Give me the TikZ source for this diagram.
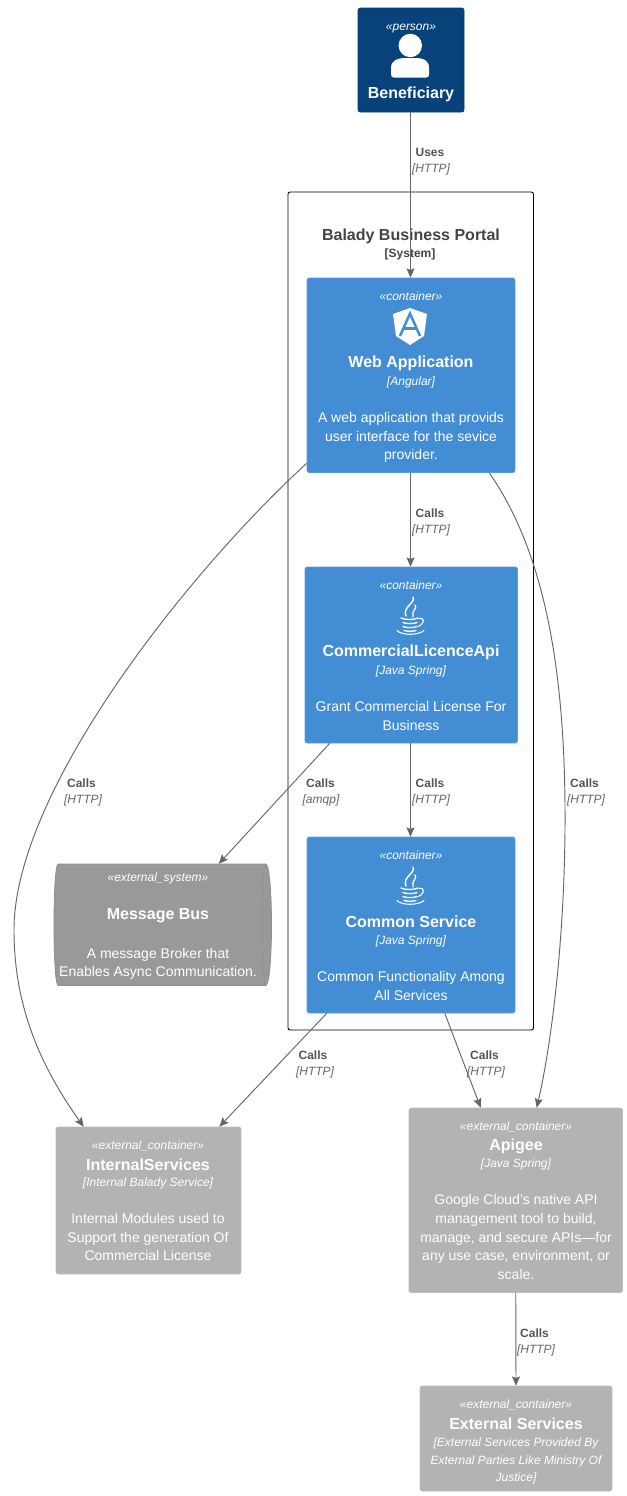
\documentclass[tikz,border=0pt]{standalone}
\usepackage{fontspec}
\setmainfont{Liberation Sans}
\usetikzlibrary{arrows.meta,calc}
\definecolor{person}{HTML}{08427B}
\definecolor{personb}{HTML}{073B6F}
\definecolor{cont}{HTML}{438DD5}
\definecolor{contb}{HTML}{5A9BDC}
\definecolor{ext}{HTML}{B3B3B3}
\definecolor{extb}{HTML}{BDBDBD}
\definecolor{sys}{HTML}{999999}
\definecolor{sysb}{HTML}{8F8F8F}
\definecolor{edge}{HTML}{666666}
\definecolor{lab}{HTML}{555555}
\definecolor{labi}{HTML}{666666}
\definecolor{title}{HTML}{444444}
\tikzset{
  x=0.75pt,y=-0.75pt,
  personbox/.style={draw=personb,fill=person,rounded corners=1.8pt,line width=0.6pt},
  contbox/.style={draw=contb,fill=cont,rounded corners=1.8pt,line width=0.6pt},
  extbox/.style={draw=extb,fill=ext,rounded corners=1.8pt,line width=0.6pt},
  txt/.style={text=white,inner sep=0pt,align=center},
  stereo/.style={txt,font=\fontsize{9}{11}\selectfont\itshape},
  ttl/.style={txt,font=\fontsize{12}{14}\selectfont\bfseries},
  tech/.style={txt,font=\fontsize{9}{13.2}\selectfont\itshape},
  desc/.style={txt,font=\fontsize{10.5}{14}\selectfont},
  elabel/.style={inner sep=0pt,text=lab,font=\fontsize{9}{11}\selectfont\bfseries},
  etech/.style={inner sep=0pt,text=labi,font=\fontsize{9}{11}\selectfont\itshape},
  conn/.style={draw=edge,line width=0.7pt,-{Stealth[length=7pt,width=6pt,inset=1.2pt]}},
}
\newcommand{\boxnode}[6]{% name, style, x1,y1,x2,y2
  \path[#2] (#3,#4) rectangle (#5,#6);
  \coordinate (#1 c) at ({(#3+#5)/2},{(#4+#6)/2});
  \node[inner sep=0pt,minimum width={(#5-#3)*0.75pt},minimum height={(#6-#4)*0.75pt}] (#1) at (#1 c) {};
}
\newcommand{\javaicon}[1]{%
  \begin{scope}[shift={(410,#1)},draw=white,line cap=round,fill=none]
    \draw[line width=1.1pt] (3,0) .. controls (6,6) and (-8,10) .. (-4,19);
    \draw[line width=1pt] (5,8) .. controls (8,11) and (1,14) .. (3,20);
    \draw[line width=1pt] (-9,21) .. controls (-5,23) and (4,23) .. (8,21);
    \draw[line width=1pt] (-7,25.5) .. controls (-3,27) and (3,27) .. (7,25.5);
    \draw[line width=1pt] (-7,29.5) .. controls (-3,31) and (3,31) .. (7,29.5);
    \draw[line width=0.8pt] (9,21.5) .. controls (15,20) and (15,27) .. (8,29.5);
    \draw[line width=1pt] (-6,33.5) .. controls (-3,34.5) and (3,34.5) .. (6,33.5);
    \draw[line width=0.8pt] (-13,33.5) .. controls (-9,38.5) and (9,38.5) .. (14,33.5);
  \end{scope}
}
\begin{document}
\begin{tikzpicture}
\useasboundingbox[fill=white] (0,0) rectangle (627,1496);

% boundary
\draw[black,line width=0.7pt,rounded corners=1.6pt,fill=white] (288,192) rectangle (533.5,1030);
\node[inner sep=0pt,text=title,font=\fontsize{12}{14}\selectfont\bfseries] (bndt) at (411,236) {Balady Business Portal};
\node[inner sep=0pt,text=title,font=\fontsize{9}{11}\selectfont\bfseries] (bnds) at (410,254) {[System]};

% Beneficiary
\boxnode{ben}{personbox}{358}{8}{464}{112}
\node[stereo] (bens) at (411,29) {«person»};
\fill[white] (410.3,45.5) circle (11.7);
\fill[white] (391,68) .. controls (391,60) and (398,58) .. (405,58) -- (416,58) .. controls (423,58) and (429,60) .. (429,68) -- (429,74.5) .. controls (429,76.5) and (428,77.5) .. (426,77.5) -- (394,77.5) .. controls (392,77.5) and (391,76.5) .. (391,74.5) -- cycle;
\node[ttl] (bent) at (411,94) {Beneficiary};

% Web application
\boxnode{web}{contbox}{307}{278}{515}{472.5}
\node[stereo] (webs) at (411,296) {«container»};
\fill[white] (410,308) -- (427,314) -- (424,336) -- (410,345) -- (396,336) -- (393,314) -- cycle;
\draw[cont,line width=1.9pt] (400,336) -- (410,313.5) -- (420,336);
\draw[cont,line width=1.9pt] (404,328.5) -- (416,328.5);
\node[ttl] (webt) at (411,363.5) {Web Application};
\node[tech] (webk) at (411,382) {[Angular]};
\node[desc] (webd) at (411,437.5) {A web application that provids\\user interface for the sevice\\provider.};

% CommercialLicenceApi
\boxnode{com}{contbox}{305}{567}{517.5}{743}
\node[stereo] (coms) at (411,585) {«container»};
\javaicon{597}
\node[ttl] (comt) at (411,652.5) {CommercialLicenceApi};
\node[tech] (comk) at (411,671) {[Java Spring]};
\node[desc] (comd) at (411,716) {Grant Commercial License For\\Business};

% Common Service
\boxnode{cmn}{contbox}{307}{837}{515}{1013}
\node[stereo] (cmns) at (411,855) {«container»};
\javaicon{867}
\node[ttl] (cmnt) at (411,921.5) {Common Service};
\node[tech] (cmnk) at (411,941) {[Java Spring]};
\node[desc] (cmnd) at (411,986) {Common Functionality Among\\All Services};

% Message Bus
\draw[sysb,fill=sys,line width=0.6pt] (58,864) -- (266,864) .. controls (270,866) and (271.5,900) .. (271.5,925) .. controls (271.5,950) and (270,983) .. (266,985.5) -- (58,985.5) .. controls (55,983) and (54,950) .. (54,925) .. controls (54,900) and (55,866) .. (58,864) -- cycle;
\draw[sysb,line width=0.5pt] (266,864) .. controls (262,870) and (262,900) .. (262,925) .. controls (262,950) and (262,980) .. (266,985.5);
\node[inner sep=0pt,minimum width=163pt,minimum height=91pt] (bus) at (162.75,924.75) {};
\node[stereo] (buss) at (158,878) {«external\_system»};
\node[ttl] (bust) at (158,916) {Message Bus};
\node[desc] (busd) at (158,964) {A message Broker that\\Enables Async Communication.};

% InternalServices
\boxnode{int}{extbox}{56}{1127}{241}{1274}
\node[stereo] (ints) at (148,1146) {«external\_container»};
\node[ttl] (intt) at (148,1164.5) {InternalServices};
\node[tech] (intk) at (148,1183.5) {[Internal Balady Service]};
\node[desc] (intd) at (148,1237) {Internal Modules used to\\Support the generation Of\\Commercial License};

% Apigee
\boxnode{api}{extbox}{409}{1108}{622.5}{1292.5}
\node[stereo] (apis) at (516,1127) {«external\_container»};
\node[ttl] (apit) at (516,1146.5) {Apigee};
\node[tech] (apik) at (516,1164.5) {[Java Spring]};
\node[desc] (apid) at (516,1237) {Google Cloud's native API\\management tool to build,\\manage, and secure APIs—for\\any use case, environment, or\\scale.};

% External Services
\boxnode{exs}{extbox}{420}{1386}{612}{1491}
\node[stereo] (exss) at (516,1405) {«external\_container»};
\node[ttl] (exst) at (516,1424) {External Services};
\node[tech] (exsk) at (516,1461) {[External Services Provided By\\External Parties Like Ministry Of\\Justice]};

% connectors
\draw[conn] ($(ben.south)+(-0.5,0)$) -- ($(web.north)+(-0.5,0)$);
\draw[conn] ($(web.south)+(-0.5,0)$) -- ($(com.north)+(-0.75,0)$);
\draw[conn] ($(com.south)+(-0.75,0)$) -- ($(cmn.north)+(-0.5,0)$);
\draw[conn] ($(com.south west)+(25,0)$) -- ($(bus.north)+(56,0)$);
\draw[conn] ($(cmn.south west)+(20,0)$) -- ($(int.north east)+(-22,0)$);
\draw[conn] ($(cmn.south west)+(138,0)$) -- ($(api.north west)+(72,0)$);
\draw[conn] (api.south) -- (exs.north);
\draw[conn] ($(web.west)+(0,88)$) .. controls (190,570) and (14,790) .. (14,930) .. controls (14,1000) and (36,1060) .. ($(int.north west)+(28,0)$);
\draw[conn] ($(web.south east)+(-26,0)$) .. controls (550,560) and (566,690) .. (565,830) .. controls (564,950) and (550,1050) .. ($(api.north west)+(128,0)$);

% labels
\node[elabel] (l1) at (430,152) {Uses};
\node[etech] (t1) at (431,169) {[HTTP]};
\node[elabel] (l2) at (430,513) {Calls};
\node[etech] (t2) at (431,530) {[HTTP]};
\node[elabel] (l3) at (81.5,783) {Calls};
\node[etech] (t3) at (83,800) {[HTTP]};
\node[elabel] (l4) at (320.5,783) {Calls};
\node[etech] (t4) at (321,800) {[amqp]};
\node[elabel] (l5) at (430,783) {Calls};
\node[etech] (t5) at (431,800) {[HTTP]};
\node[elabel] (l6) at (584.5,783) {Calls};
\node[etech] (t6) at (586,800) {[HTTP]};
\node[elabel] (l7) at (313,1055) {Calls};
\node[etech] (t7) at (315,1072) {[HTTP]};
\node[elabel] (l8) at (484.5,1055) {Calls};
\node[etech] (t8) at (486,1072) {[HTTP]};
\node[elabel] (l9) at (534.5,1333) {Calls};
\node[etech] (t9) at (536,1350) {[HTTP]};
\end{tikzpicture}
\end{document}
